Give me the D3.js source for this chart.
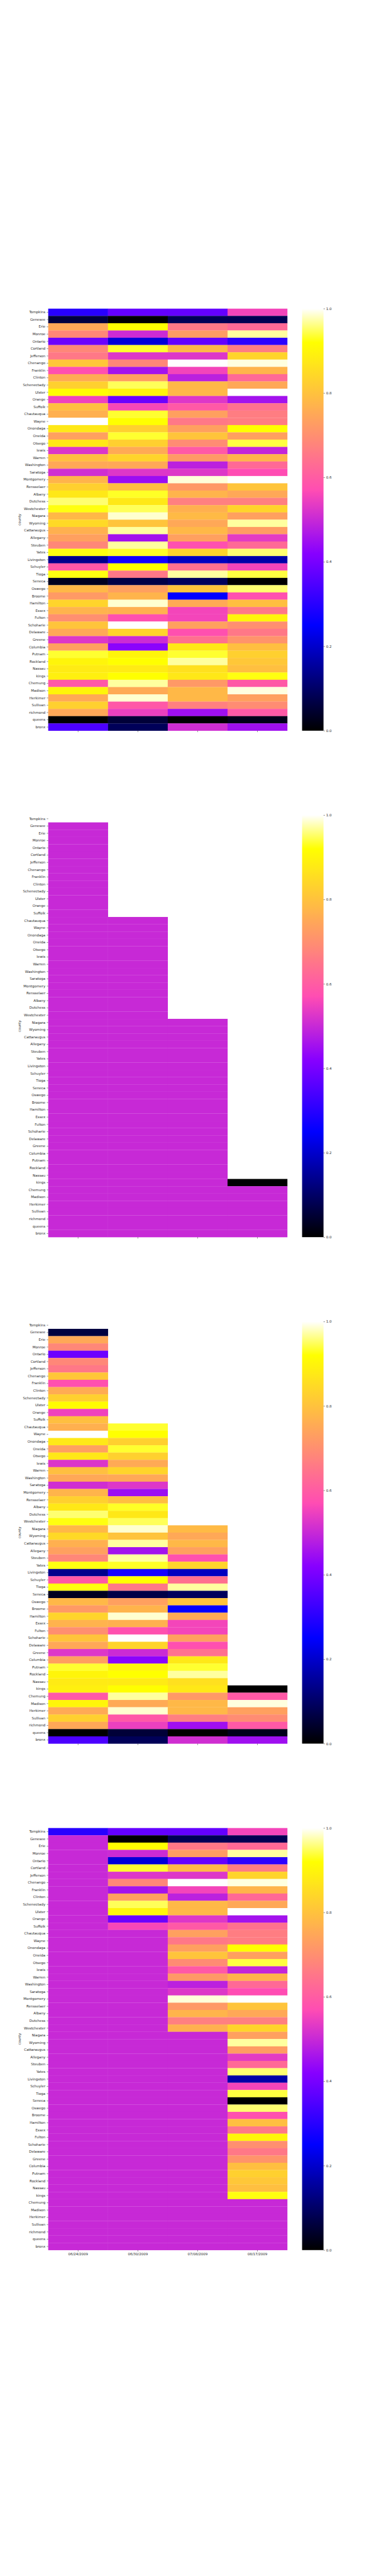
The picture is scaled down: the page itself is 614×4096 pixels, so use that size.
<!DOCTYPE html>
<html><head><meta charset="utf-8">
<script src="https://cdn.jsdelivr.net/npm/d3@7"></script>
<style>body{margin:0;background:#fff}svg{display:block}</style>
</head><body><script>
// ---------------- data ----------------
const counties = ["Tompkins","Genesee","Erie","Monroe","Ontario","Cortland","Jefferson","Chenango","Franklin","Clinton",
"Schenectady","Ulster","Orange","Suffolk","Chautauqua","Wayne","Onondaga","Oneida","Otsego","lewis",
"Warren","Washington","Saratoga","Montgomery","Rensselaer","Albany","Dutchess","Westchester","Niagara","Wyoming",
"Cattaraugus","Allegany","Steuben","Yates","Livingston","Schuyler","Tioga","Seneca","Oswego","Broome",
"Hamilton","Essex","Fulton","Schoharie","Delaware","Greene","Columbia","Putnam","Rockland","Nassau",
"kings","Chemung","Madison","Herkimer","Sullivan","richmond","queens","bronx"];
const dates = ["06/24/2009","06/30/2009","07/08/2009","08/17/2009"];

const rate0624 = [0.300,0.063,0.75,0.685,0.385,0.685,0.655,0.81,0.577,0.757,
0.828,0.915,0.55,0.795,0.765,1.0,0.875,0.733,0.875,0.525,
0.795,0.75,0.51,0.773,0.828,0.875,0.955,0.925,0.78,0.845,
0.765,0.733,0.685,0.925,0.137,0.593,0.925,0.031,0.78,0.722,
0.835,0.77,0.70,0.805,0.75,0.527,0.733,0.935,0.90,0.88,
0.89,0.593,0.90,0.753,0.828,0.75,0.0,0.346];
const rate0630 = [0.375,0.0,0.92,0.505,0.212,0.935,0.527,0.685,0.455,0.733,
0.948,0.90,0.385,0.56,0.935,0.92,0.828,0.935,0.828,0.753,
0.835,0.75,0.527,0.445,0.795,0.932,0.875,0.948,0.985,0.805,
0.97,0.455,0.97,0.932,0.275,0.92,0.655,0.07,0.733,0.773,
0.985,0.765,0.577,1.0,0.835,0.505,0.425,0.90,0.92,0.88,
0.92,0.97,0.753,0.985,0.593,0.545,0.055,0.086];
const rate0708 = [0.376,0.085,0.655,0.725,0.375,0.78,0.527,1.0,0.555,0.485,
0.78,0.78,0.527,0.595,0.733,0.655,0.733,0.805,0.695,0.595,
0.72,0.485,0.527,0.988,0.72,0.773,0.67,0.765,0.785,0.75,
0.78,0.733,0.577,0.835,0.188,0.64,0.97,0.09,0.805,0.25,
0.753,0.555,0.555,0.733,0.577,0.64,0.875,0.935,0.97,0.86,
0.875,0.72,0.78,0.78,0.67,0.45,0.0,0.51];
const rate0817 = [0.555,0.08,0.625,0.97,0.305,0.665,0.835,0.99,0.773,0.625,
0.75,1.0,0.455,0.64,0.665,0.665,0.92,0.733,0.94,0.495,
0.773,0.625,0.57,1.0,0.805,0.75,0.67,0.835,0.733,0.97,
0.725,0.535,0.625,0.955,0.165,0.555,0.94,0.0,0.955,0.577,
0.795,0.655,0.90,0.70,0.655,0.71,0.795,0.828,0.81,0.795,
0.925,0.595,0.99,0.733,0.695,0.595,0.025,0.45];

// mask (second panel): first reported row per date, a zero cell, constant value
const maskStart = [1, 14, 28, 50];
const maskZeroCells = [{county: "kings", date: "08/17/2009"}];
const maskValue = 0.5;
const colorbarTicks = [0.0, 0.2, 0.4, 0.6, 0.8, 1.0];
const yLabel = "county";

// ---------------- helpers ----------------
const values = [rate0624, rate0630, rate0708, rate0817];
const dataAt = (r, c) => values[c][r];
function maskAt(r, c) {
  if (r < maskStart[c]) return null;
  if (maskZeroCells.some(z => z.county === counties[r] && z.date === dates[c])) return 0;
  return maskValue;
}
const panelValue = [
  (r, c) => dataAt(r, c),
  (r, c) => maskAt(r, c),
  (r, c) => { const m = maskAt(r, c); return m === null ? null : (m === 0 ? 0 : dataAt(r, c)); },
  (r, c) => { const m = maskAt(r, c); return m === maskValue ? maskValue : dataAt(r, c); }
];

// gnuplot2 colormap
function gnuplot2(t) {
  t = Math.max(0, Math.min(1, t));
  const cl = v => Math.max(0, Math.min(1, v));
  const r = cl(t / 0.32 - 0.78125);
  const g = cl(2 * t - 0.84);
  const b = cl(t < 0.25 ? 4 * t : (t < 0.92 ? -2 * t + 1.84 : t / 0.08 - 11.5));
  return d3.rgb(Math.round(r * 255), Math.round(g * 255), Math.round(b * 255)).formatHex();
}
const color = d3.scaleSequential(gnuplot2).domain([0, 1]);

// ---------------- layout (reference pixels, scaled) ----------------
const S = 0.568;
const W = 614, H = 4096;
const left = 135, right = 804.6;
const panelTop0 = 864, panelStep = 1417.8, panelH = 1181.5;
const cbX = 846, cbW = 60;
const FONT = "DejaVu Sans", FS = 9.7, TXT = "#262626";

const svg = d3.select("body").append("svg").attr("width", W).attr("height", H);
svg.append("rect").attr("width", W).attr("height", H).attr("fill", "#fff");
const defs = svg.append("defs");
const grad = defs.append("linearGradient").attr("id", "cbgrad")
  .attr("x1", 0).attr("y1", 1).attr("x2", 0).attr("y2", 0);
d3.range(0, 1.0001, 0.01).forEach(t => {
  grad.append("stop").attr("offset", t).attr("stop-color", color(t));
});
const root = svg.append("g").attr("transform", `scale(${S})`);

const x = d3.scaleBand().domain(dates).range([left, right]);

function styleAxis(a) {
  a.select(".domain").remove();
  a.attr("font-family", FONT).attr("font-size", FS).attr("color", TXT);
  a.selectAll(".tick line").attr("stroke-width", 0.9);
}

panelValue.forEach((fn, p) => {
  const top = panelTop0 + p * panelStep;
  const y = d3.scaleBand().domain(counties).range([top, top + panelH]);
  const g = root.append("g");

  const cells = [];
  counties.forEach((co, r) => dates.forEach((d, c) => {
    const v = fn(r, c);
    if (v !== null && v !== undefined) cells.push({co, d, v});
  }));
  g.append("g").selectAll("rect").data(cells).join("rect")
    .attr("x", d => x(d.d)).attr("y", d => y(d.co))
    .attr("width", x.bandwidth() + 0.3).attr("height", y.bandwidth() + 0.3)
    .attr("fill", d => color(d.v));

  // y axis
  g.append("g").attr("transform", `translate(${left},0)`)
    .call(d3.axisLeft(y).tickSize(4).tickPadding(4)).call(styleAxis);
  // x axis
  const xa = g.append("g").attr("transform", `translate(0,${top + panelH})`)
    .call(d3.axisBottom(x).tickSize(4).tickPadding(3.5)).call(styleAxis);
  if (p !== panelValue.length - 1) xa.selectAll(".tick text").remove();

  // y label
  g.append("text").attr("transform", `translate(54,${top + panelH / 2}) rotate(-90)`)
    .attr("text-anchor", "middle").attr("dy", "0.35em")
    .attr("font-family", FONT).attr("font-size", FS).attr("fill", TXT).text(yLabel);

  // colorbar
  g.append("rect").attr("x", cbX).attr("y", top).attr("width", cbW).attr("height", panelH)
    .attr("fill", "url(#cbgrad)");
  const cs = d3.scaleLinear().domain([0, 1]).range([top + panelH, top]);
  g.append("g").attr("transform", `translate(${cbX + cbW},0)`)
    .call(d3.axisRight(cs).tickValues(colorbarTicks).tickFormat(d3.format(".1f")).tickSize(4).tickPadding(3.5))
    .call(styleAxis);
});
</script></body></html>
